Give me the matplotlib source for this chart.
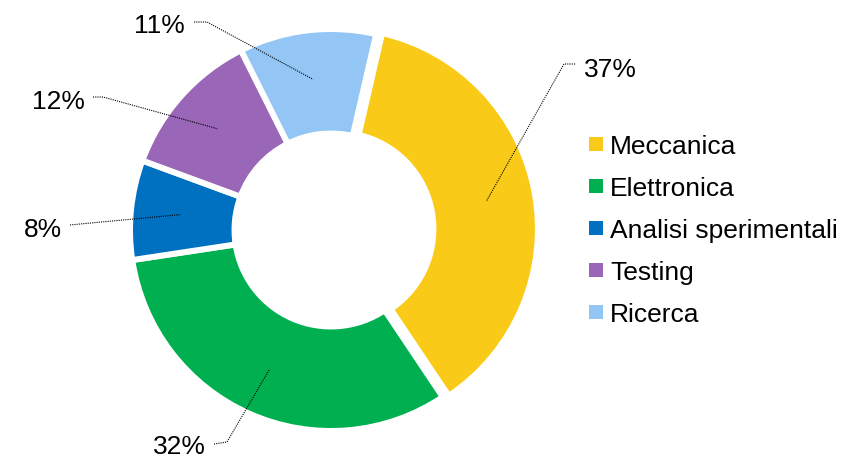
import numpy as np
import matplotlib.pyplot as plt
from matplotlib.lines import Line2D

categories = ['Meccanica', 'Elettronica', 'Analisi sperimentali', 'Testing', 'Ricerca']
shares = [37, 32, 8, 12, 11]
colors = ['#FACA18', '#00B050', '#0070C0', '#9966B8', '#93C6F4']
pct_labels = ['37%', '32%', '8%', '12%', '11%']

W, H = 845, 460
CX, CY = 331, 231   # ring centre, pixels from top-left
SCALE = 201.0       # pixels per data unit
FS = 19


def px(x, y):
    return (x - CX) / SCALE, (CY - y) / SCALE


plt.rcParams['font.family'] = ['Liberation Sans', 'DejaVu Sans']

fig = plt.figure(figsize=(W / 100, H / 100), dpi=100)
ax = fig.add_axes([0, 0, 1, 1])

explode = [0.03, 0, 0, 0, 0]
wedges, _ = ax.pie(shares, colors=colors, startangle=77, counterclock=False,
                   explode=explode, radius=1.0,
                   wedgeprops=dict(width=0.52, edgecolor='white', linewidth=4.3))

ax.set_aspect('auto')
ax.set_xlim((0 - CX) / SCALE, (W - CX) / SCALE)
ax.set_ylim((CY - H) / SCALE, CY / SCALE)
ax.axis('off')

# label text centre, leader start, leader elbow (pixels)
label_pos = [(610, 68), (179, 445), (43, 228), (58, 100), (159, 24)]
line_start = [(575, 65), (214, 445), (70, 226), (93, 98), (194, 23)]
line_elbow = [(564, 65), (227, 443), (80, 225), (103, 98), (207, 23)]

for i, w in enumerate(wedges):
    mid = np.deg2rad((w.theta1 + w.theta2) / 2)
    cx, cy = w.center
    ax_x = cx + 0.755 * np.cos(mid)
    ax_y = cy + 0.755 * np.sin(mid)
    sx, sy = px(*line_start[i])
    ex, ey = px(*line_elbow[i])
    ax.plot([sx, ex, ax_x], [sy, ey, ax_y], color='black', lw=0.8,
            linestyle=(0, (1, 1)), solid_capstyle='butt')
    tx, ty = px(label_pos[i][0], label_pos[i][1] + 9.5)
    ax.text(tx, ty, pct_labels[i], fontsize=FS, ha='center', va='baseline')

handles = [Line2D([], [], marker='s', linestyle='none', markersize=10.3,
                  markerfacecolor=c, markeredgewidth=0) for c in colors]
fig.legend(handles, categories, loc='center left',
           bbox_to_anchor=(589 / W, 1 - 231 / H), frameon=False, fontsize=FS,
           handlelength=0.53, handletextpad=0.27, labelspacing=0.68,
           borderpad=0, borderaxespad=0)

fig.savefig('out.png', dpi=100)
